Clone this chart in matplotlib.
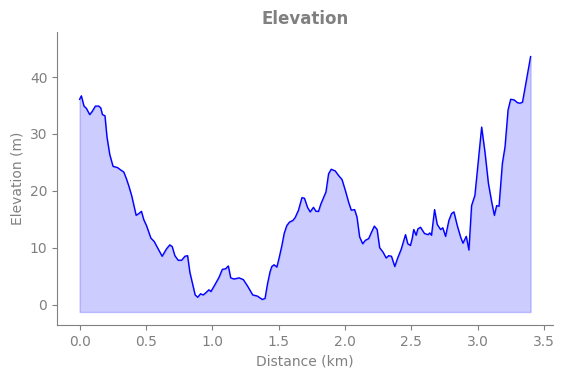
import matplotlib
matplotlib.use("Agg")
import matplotlib.pyplot as plt
import numpy as np

distance_km = [0.000, 0.013, 0.033, 0.051, 0.076, 0.093, 0.119, 0.144, 0.159, 0.172, 0.191, 0.206,
               0.227, 0.252, 0.285, 0.308, 0.333, 0.353, 0.373, 0.393, 0.426, 0.446, 0.466, 0.484,
               0.504, 0.537, 0.562, 0.592, 0.622, 0.655, 0.680, 0.698, 0.718, 0.743, 0.769, 0.794,
               0.814, 0.831, 0.852, 0.871, 0.890, 0.912, 0.932, 0.952, 0.975, 0.990, 1.020, 1.051,
               1.076, 1.101, 1.121, 1.139, 1.164, 1.202, 1.234, 1.265, 1.305, 1.340, 1.378, 1.398,
               1.416, 1.436, 1.449, 1.466, 1.487, 1.504, 1.525, 1.542, 1.562, 1.582, 1.608, 1.625,
               1.650, 1.676, 1.695, 1.718, 1.738, 1.763, 1.782, 1.801, 1.819, 1.857, 1.877, 1.897,
               1.927, 1.952, 1.978, 2.003, 2.028, 2.048, 2.073, 2.091, 2.111, 2.134, 2.154, 2.179,
               2.200, 2.222, 2.243, 2.262, 2.288, 2.311, 2.330, 2.351, 2.376, 2.398, 2.424, 2.457,
               2.474, 2.494, 2.507, 2.519, 2.537, 2.550, 2.570, 2.600, 2.628, 2.640, 2.653, 2.676,
               2.696, 2.721, 2.738, 2.759, 2.784, 2.804, 2.822, 2.847, 2.872, 2.890, 2.915, 2.935,
               2.955, 2.980, 3.006, 3.031, 3.056, 3.082, 3.107, 3.127, 3.144, 3.162, 3.187, 3.207,
               3.230, 3.250, 3.275, 3.301, 3.320, 3.339, 3.369, 3.400]
elevation_m = [36.1, 36.7, 34.9, 34.5, 33.4, 33.9, 34.9, 34.9, 34.6, 33.4, 33.2, 29.5,
               26.4, 24.3, 24.1, 23.7, 23.3, 22.1, 20.7, 19.1, 15.7, 16.0, 16.4, 14.9,
               13.9, 11.7, 11.1, 9.8, 8.5, 9.8, 10.5, 10.2, 8.6, 7.8, 7.8, 8.5,
               8.6, 5.7, 3.6, 1.7, 1.3, 1.9, 1.7, 2.1, 2.6, 2.3, 3.5, 4.8,
               6.2, 6.3, 6.8, 4.7, 4.5, 4.7, 4.4, 3.3, 1.7, 1.5, 0.9, 1.1,
               3.6, 5.8, 6.7, 7.0, 6.6, 8.2, 10.4, 12.5, 13.9, 14.5, 14.8, 15.3,
               16.6, 18.8, 18.7, 17.1, 16.3, 17.1, 16.4, 16.4, 17.7, 19.8, 23.0, 23.8,
               23.5, 22.7, 22.0, 20.1, 18.0, 16.6, 16.7, 15.4, 11.9, 10.7, 11.3, 11.6,
               12.7, 13.8, 13.2, 10.0, 9.2, 8.2, 8.6, 8.5, 6.7, 8.2, 9.7, 12.3,
               10.7, 10.4, 11.6, 13.2, 12.2, 13.3, 13.6, 12.5, 12.3, 12.6, 12.2, 16.7,
               14.1, 13.2, 13.5, 12.0, 14.8, 16.0, 16.3, 13.9, 11.9, 10.8, 12.0, 9.6,
               17.4, 19.2, 25.4, 31.2, 26.8, 21.3, 18.0, 15.7, 17.4, 17.3, 24.8, 27.7,
               34.2, 36.1, 36.0, 35.5, 35.4, 35.6, 39.5, 43.6]
fill_base = -1.3

grey = "#808080"
fig, ax = plt.subplots(figsize=(5.65, 3.78), dpi=100)
fig.subplots_adjust(left=0.101, right=0.979, bottom=0.140, top=0.915)

ax.fill_between(distance_km, elevation_m, fill_base, color="blue", alpha=0.2)
ax.plot(distance_km, elevation_m, color="blue", linewidth=1)
ax.set_ylim(-3.6, 47.9)

ax.set_title("Elevation", fontsize=12, fontweight="bold", color=grey)
ax.set_xlabel("Distance (km)", fontsize=10, color=grey)
ax.set_ylabel("Elevation (m)", fontsize=10, color=grey)
for s in ["top", "right"]:
    ax.spines[s].set_visible(False)
for s in ["left", "bottom"]:
    ax.spines[s].set_color(grey)
ax.tick_params(colors=grey, labelcolor=grey, labelsize=10)

fig.savefig("out.png", dpi=100)
